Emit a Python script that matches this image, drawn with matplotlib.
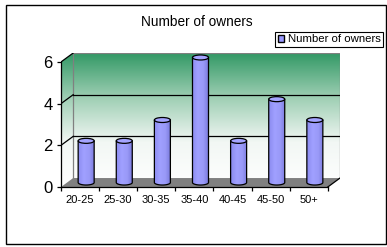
import numpy as np
import matplotlib
matplotlib.use("Agg")
import matplotlib.pyplot as plt
from matplotlib.patches import Polygon, Ellipse, Rectangle, Patch
from matplotlib.colors import LinearSegmentedColormap

plt.rcParams['font.family'] = ['Liberation Sans', 'DejaVu Sans']

# данные
categories = ["20-25", "25-30", "30-35", "35-40", "40-45", "45-50", "50+"]
owners = [2, 2, 3, 6, 2, 4, 3]
y_ticks = [0, 2, 4, 6]
title = "Number of owners"
series_name = "Number of owners"

# глубина 3D-эффекта в единицах данных
DX = 0.32
DY = 0.43
n = len(categories)

fig = plt.figure(figsize=(3.87, 2.47), dpi=100)
fig.patch.set_facecolor("white")
ax = fig.add_axes([61 / 387, 60 / 247, 279 / 387, 134 / 247])
ax.set_xlim(-0.5, n - 0.5 + DX)
ax.set_ylim(0, 6 + DY)
ax.patch.set_visible(False)

# стенки (задняя + левая) с градиентом
wall_cmap = LinearSegmentedColormap.from_list("wall", ["#ffffff", "#f2f7f4", "#9fcfb4", "#339966"])
grad = np.linspace(0, 1, 256).reshape(-1, 1)
wall = Polygon([(-0.5, 0), (-0.5, 6), (-0.5 + DX, 6 + DY), (n - 0.5 + DX, 6 + DY),
                (n - 0.5 + DX, DY), (n - 0.5, 0)], closed=True, fill=False, lw=0, transform=ax.transData)
ax.add_patch(wall)
im = ax.imshow(grad, cmap=wall_cmap, origin="lower", aspect="auto",
               extent=(-0.5, n - 0.5 + DX, 0, 6 + DY), zorder=0)
im.set_clip_path(wall)
im.set_clip_box(None)

# края задней стенки
ax.plot([-0.5 + DX, -0.5 + DX, n - 0.5 + DX, n - 0.5 + DX], [DY, 6 + DY, 6 + DY, DY],
        color="#808080", lw=0.9, zorder=1)
# линии сетки
for v in y_ticks[1:]:
    if v < 6:
        ax.plot([-0.5 + DX, n - 0.5 + DX], [v + DY, v + DY], color="black", lw=0.9, zorder=1)
    ax.plot([-0.5, -0.5 + DX], [v, v + DY], color="black", lw=0.9, zorder=1)

# пол
floor = Polygon([(-0.5, 0), (n - 0.5, 0), (n - 0.5 + DX, DY), (-0.5 + DX, DY)],
                closed=True, facecolor="#808080", edgecolor="none", zorder=2)
ax.add_patch(floor)
ax.plot([n - 0.5, n - 0.5 + DX], [0, DY], color="black", lw=0.9, zorder=2)

# цилиндры
cyl_cmap = LinearSegmentedColormap.from_list("cyl", ["#8c8cf0", "#a0a0ff", "#9a9af8", "#7878dc"])
w = 0.42
eh = 0.24
t = np.linspace(np.pi, 2 * np.pi, 40)
for i, v in enumerate(owners):
    xc = i + DX / 2
    y0 = DY / 2
    y1 = v + DY / 2
    bx = xc + w / 2 * np.cos(t)
    by = y0 + eh / 2 * np.sin(t)
    pts = [(xc - w / 2, y1)] + list(zip(bx, by)) + [(xc + w / 2, y1)]
    body = Polygon(pts, closed=True, facecolor="none", edgecolor="black", lw=0.9, zorder=4)
    ax.add_patch(body)
    cim = ax.imshow(np.linspace(0, 1, 64).reshape(1, -1), cmap=cyl_cmap, aspect="auto",
                    extent=(xc - w / 2, xc + w / 2, y0 - eh, y1), zorder=3)
    cim.set_clip_path(body)
    cim.set_clip_box(None)
    top = Ellipse((xc, y1), w, eh, facecolor="#a4a4ff", edgecolor="black", lw=0.9, zorder=5)
    ax.add_patch(top)

# оси
for s in ["top", "right"]:
    ax.spines[s].set_visible(False)
ax.spines["left"].set_bounds(0, 6)
ax.spines["bottom"].set_bounds(-0.5, n - 0.5)
for s in ["left", "bottom"]:
    ax.spines[s].set_linewidth(0.9)
    ax.spines[s].set_zorder(6)

ax.set_yticks(y_ticks)
ax.set_yticklabels([str(v) for v in y_ticks], fontsize=12)
ax.tick_params(axis="y", length=3, width=0.9, pad=3)
ax.set_xticks(range(n))
ax.set_xticklabels(categories, fontsize=8)
ax.set_xticks(np.arange(-0.5, n), minor=True)
ax.tick_params(axis="x", which="major", length=0, pad=6)
ax.tick_params(axis="x", which="minor", length=3, width=0.9)

fig.text(197 / 387, 1 - 22 / 247, title, ha="center", va="center", fontsize=9.8)

leg = fig.legend(handles=[Patch(facecolor="#9999ff", edgecolor="black", label=series_name)],
                 loc="upper right", bbox_to_anchor=(383 / 387, 1 - 32 / 247), fontsize=8.2,
                 fancybox=False, edgecolor="black", framealpha=1, handlelength=0.6,
                 handleheight=0.6, handletextpad=0.3, borderpad=0.2, borderaxespad=0)
leg.get_frame().set_linewidth(0.8)

fig.add_artist(Rectangle((6 / 387, 3 / 247), 380 / 387, 239 / 247, fill=False,
                         edgecolor="black", lw=1, transform=fig.transFigure))

fig.savefig("out.png", dpi=100)
